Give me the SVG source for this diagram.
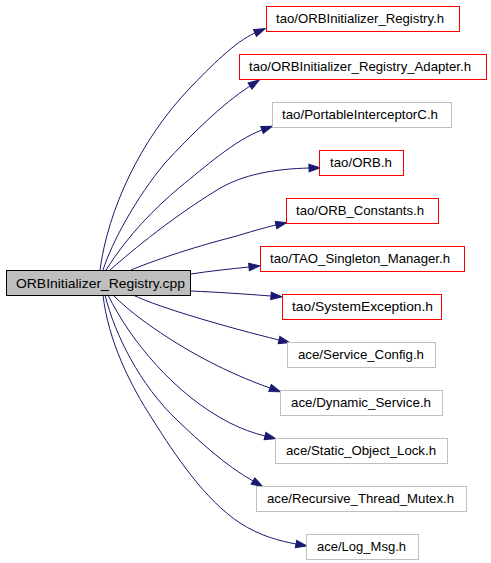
<svg xmlns="http://www.w3.org/2000/svg" width="491" height="563" viewBox="0 0 491 563">
<style>
.bg{fill:#ffffff}
.n rect{stroke-width:1}
.main rect{fill:#bfbfbf;stroke:#000000}
.red rect{fill:#ffffff;stroke:#ff0000}
.gray rect{fill:#ffffff;stroke:#bfbfbf}
text{font-family:"Liberation Sans",Arial,Helvetica,sans-serif;font-size:13px;fill:#000000}
.e path{fill:none;stroke:#191970;stroke-width:1;marker-end:url(#arr)}
</style>
<defs>
<marker id="arr" markerUnits="userSpaceOnUse" markerWidth="12" markerHeight="9" viewBox="0 0 12 9" refX="0" refY="4.5" orient="auto" overflow="visible">
<path d="M0,0.8 L11,4.5 L0,8.2 Z" fill="#191970" stroke="#191970" stroke-width="1"/>
</marker>
</defs>
<rect class="bg" x="0" y="0" width="491" height="563"/>
<g id="edges" class="e">
<path d="M100,270 C108,210 140,140 190,88 C210,67 236,41 255,33"/>
<path d="M103,270 C112,242 136,198 165,163 C190,136 222,104 250,86"/>
<path d="M106,270 C128,235 155,208 180,187 C205,167 235,140 262,130"/>
<path d="M110,270 C125,257 165,222 217,190 C243,174 275,169 309,168"/>
<path d="M131,270 C150,262 190,248 233,237 C250,232 263,228 276,225"/>
<path d="M191,274 C210,271 230,269 249,267"/>
<path d="M191,291 C215,292 245,294 271,296"/>
<path d="M133,295 C160,308 230,328 279,340"/>
<path d="M113,295 C130,312 150,326 167,337 C190,352 225,372 270,388"/>
<path d="M108,295 C130,340 175,395 230,423 C242,429 253,433 265,436"/>
<path d="M105,295 C115,335 140,385 177,420 C200,442 225,465 253,481"/>
<path d="M103,295 C108,340 130,385 153,420 C175,455 205,500 240,523 C260,536 280,541 296,544"/>
</g>
<g id="node_main" class="n main"><rect x="6.5" y="270.5" width="184" height="25"/><text x="16" y="288" textLength="169" lengthAdjust="spacingAndGlyphs">ORBInitializer_Registry.cpp</text></g>
<g id="node1" class="n red"><rect x="266.5" y="6.5" width="193" height="25"/><text x="276" y="23" textLength="168" lengthAdjust="spacingAndGlyphs">tao/ORBInitializer_Registry.h</text></g>
<g id="node2" class="n red"><rect x="239.5" y="54.5" width="247" height="25"/><text x="249" y="71" textLength="222" lengthAdjust="spacingAndGlyphs">tao/ORBInitializer_Registry_Adapter.h</text></g>
<g id="node3" class="n gray"><rect x="272.5" y="102.5" width="179" height="25"/><text x="282" y="119" textLength="156" lengthAdjust="spacingAndGlyphs">tao/PortableInterceptorC.h</text></g>
<g id="node4" class="n red"><rect x="319.5" y="150.5" width="84" height="25"/><text x="330" y="167" textLength="62" lengthAdjust="spacingAndGlyphs">tao/ORB.h</text></g>
<g id="node5" class="n red"><rect x="286.5" y="198.5" width="152" height="25"/><text x="296" y="215" textLength="128" lengthAdjust="spacingAndGlyphs">tao/ORB_Constants.h</text></g>
<g id="node6" class="n red"><rect x="260.5" y="246.5" width="204" height="25"/><text x="270" y="263" textLength="180" lengthAdjust="spacingAndGlyphs">tao/TAO_Singleton_Manager.h</text></g>
<g id="node7" class="n red"><rect x="282.5" y="294.5" width="159" height="25"/><text x="292" y="311" textLength="141" lengthAdjust="spacingAndGlyphs">tao/SystemException.h</text></g>
<g id="node8" class="n gray"><rect x="287.5" y="342.5" width="148" height="25"/><text x="298" y="359" textLength="126" lengthAdjust="spacingAndGlyphs">ace/Service_Config.h</text></g>
<g id="node9" class="n gray"><rect x="280.5" y="390.5" width="162" height="25"/><text x="291" y="407" textLength="140" lengthAdjust="spacingAndGlyphs">ace/Dynamic_Service.h</text></g>
<g id="node10" class="n gray"><rect x="275.5" y="438.5" width="172" height="25"/><text x="286" y="455" textLength="150" lengthAdjust="spacingAndGlyphs">ace/Static_Object_Lock.h</text></g>
<g id="node11" class="n gray"><rect x="256.5" y="486.5" width="210" height="25"/><text x="267" y="503" textLength="187" lengthAdjust="spacingAndGlyphs">ace/Recursive_Thread_Mutex.h</text></g>
<g id="node12" class="n gray"><rect x="306.5" y="534.5" width="112" height="25"/><text x="317" y="551" textLength="89" lengthAdjust="spacingAndGlyphs">ace/Log_Msg.h</text></g>
</svg>
